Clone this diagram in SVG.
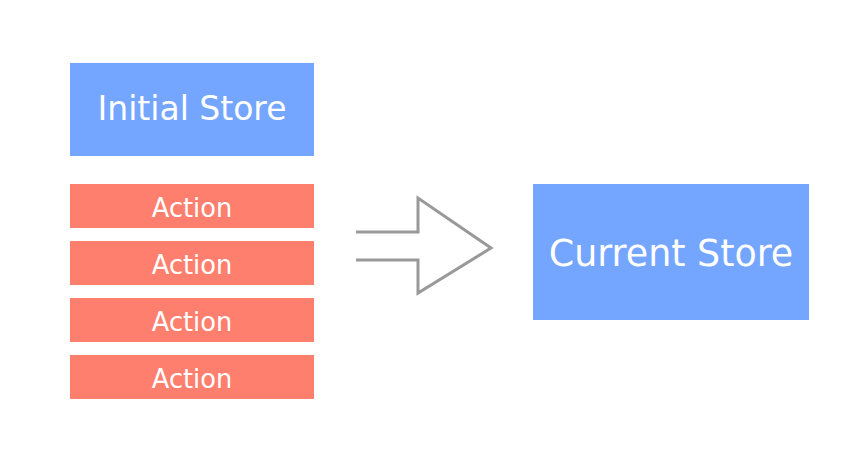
<svg xmlns="http://www.w3.org/2000/svg" width="863" height="453" viewBox="0 0 863 453">
<style>
.store{fill:#74a5ff}
.action{fill:#ff7f6f}
text{font-family:"DejaVu Sans","Verdana",sans-serif;fill:#fff;text-anchor:middle}
.conn{fill:none;stroke:#999;stroke-width:3}
</style>
<rect width="863" height="453" fill="#fff"/>
<g id="initial-store"><rect class="store" x="70" y="63" width="244" height="93"/><text x="192" y="120" font-size="33">Initial Store</text></g>
<g id="action-1"><rect class="action" x="70" y="184" width="244" height="44"/><text x="192" y="217" font-size="25.7">Action</text></g>
<g id="action-2"><rect class="action" x="70" y="241" width="244" height="44"/><text x="192" y="274" font-size="25.7">Action</text></g>
<g id="action-3"><rect class="action" x="70" y="298" width="244" height="44"/><text x="192" y="331" font-size="25.7">Action</text></g>
<g id="action-4"><rect class="action" x="70" y="355" width="244" height="44"/><text x="192" y="388" font-size="25.7">Action</text></g>
<g id="current-store"><rect class="store" x="533" y="184" width="276" height="136"/><text x="671" y="266" font-size="36.4">Current Store</text></g>
<g id="connectors"><path class="conn" d="M356 232 H418 V198 L491 248 L418 293 V260 H356"/></g>
</svg>
